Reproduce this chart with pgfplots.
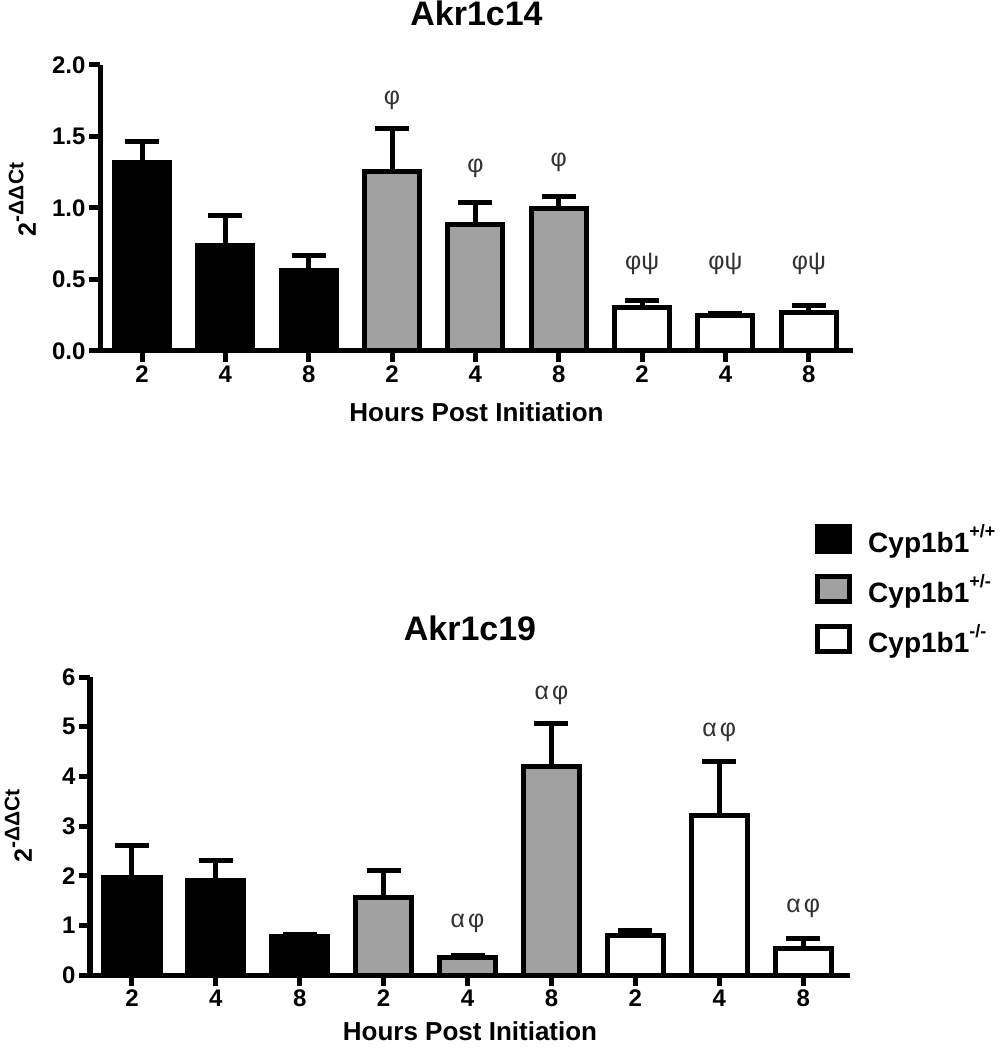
\documentclass[border=0pt]{standalone}
\usepackage{fontspec}
\setmainfont{Liberation Sans}
\usepackage{pgfplots}
\pgfplotsset{compat=1.18}

\definecolor{bargray}{RGB}{160,160,160}
\definecolor{annotgray}{RGB}{50,50,50}
\newcommand{\fs}[1]{\fontsize{#1}{#1}\selectfont}

\tikzset{sig/.style={font=\fs{25}, text=annotgray, inner sep=0pt}}

\pgfplotsset{
  gp/.style={
    scale only axis,
    ybar, bar width=0.66,
    axis x line*=bottom, axis y line*=left,
    axis line style={line width=5pt, -},
    tick style={line width=5pt, black},
    major tick length=11pt,
    tick align=outside,
    xtick={0,...,8},
    xticklabels={2,4,8,2,4,8,2,4,8},
    ticklabel style={font=\fs{24}\bfseries},
    /pgf/number format/assume math mode=true,
    xlabel={Hours Post Initiation},
    xlabel style={font=\fs{26}\bfseries, at={(axis description cs:0.5,0)}, anchor=base, yshift=-71pt},
    title style={font=\fs{34}\bfseries, inner sep=0pt, at={(axis description cs:0.5,1)}, anchor=base, yshift=33pt},
    ylabel={2\raisebox{0.5em}{\fs{21}-ΔΔCt}},
    ylabel style={font=\fs{25}\bfseries, anchor=south, inner sep=0pt},
    clip=false,
  },
  grp/.style={bar shift=0pt, line width=5pt, draw=black,
    error bars/y dir=plus, error bars/y explicit,
    error bars/error bar style={line width=5pt, black},
    error bars/error mark options={rotate=90, line width=5pt, mark size=17pt, black}},
}

\begin{document}
\begin{tikzpicture}
\path[use as bounding box] (0,0) rectangle (1002pt,1050pt);

% Akr1c14
\begin{axis}[gp,
  at={(100pt,699pt)}, anchor=south west,
  width=753pt, height=286pt,
  xmin=-0.504, xmax=8.53, ymin=0, ymax=2,
  ytick={0,0.5,...,2},
  yticklabel style={/pgf/number format/.cd, fixed, fixed zerofill, precision=1},
  ylabel style={at={(axis description cs:0,0.53)}, yshift=64pt},
  title={Akr1c14},
]
\addplot[grp, fill=black] coordinates {(0,1.32) +- (0,0.143) (1,0.74) +- (0,0.208) (2,0.565) +- (0,0.103)};
\addplot[grp, fill=bargray] coordinates {(3,1.255) +- (0,0.303) (4,0.885) +- (0,0.154) (5,0.997) +- (0,0.086)};
\addplot[grp, fill=white] coordinates {(6,0.305) +- (0,0.048) (7,0.25) +- (0,0.01) (8,0.27) +- (0,0.049)};
\node[sig] at (axis cs:3,1.755) {φ};
\node[sig] at (axis cs:4,1.28) {φ};
\node[sig] at (axis cs:5,1.32) {φ};
\node[sig] at (axis cs:6,0.61) {φψ};
\node[sig] at (axis cs:7,0.61) {φψ};
\node[sig] at (axis cs:8,0.61) {φψ};
\end{axis}

% Akr1c19
\begin{axis}[gp,
  at={(90pt,75pt)}, anchor=south west,
  width=760pt, height=298pt,
  bar width=0.67,
  xmin=-0.5, xmax=8.558, ymin=0, ymax=6,
  ytick={0,1,...,6},
  ylabel style={at={(axis description cs:0,0.5)}, yshift=58pt},
  xlabel style={yshift=6pt},
  title style={yshift=-2pt},
  title={Akr1c19},
  legend style={at={(axis description cs:0.954,1.513)}, anchor=north west,
    draw=none, fill=none, inner sep=0pt, row sep=20pt,
    font=\fs{28}\bfseries, nodes={inner sep=0pt},
    /tikz/every odd column/.append style={column sep=16pt}},
  legend cell align=left,
  legend image code/.code={\draw[#1, line width=5pt] (2.5pt,-12.5pt) rectangle (34.5pt,12.5pt);},
]
\addplot[grp, fill=black] coordinates {(0,1.97) +- (0,0.64) (1,1.90) +- (0,0.40) (2,0.78) +- (0,0.04)};
\addplot[grp, fill=bargray] coordinates {(3,1.56) +- (0,0.54) (4,0.35) +- (0,0.04) (5,4.20) +- (0,0.86)};
\addplot[grp, fill=white] coordinates {(6,0.79) +- (0,0.11) (7,3.21) +- (0,1.09) (8,0.53) +- (0,0.21)};
\legend{Cyp1b1\raisebox{0.55em}{\fs{18}+/+}, Cyp1b1\raisebox{0.55em}{\fs{18}+/-}, Cyp1b1\raisebox{0.55em}{\fs{18}-/-}}
\node[sig] at (axis cs:4,1.05) {α\kern3ptφ};
\node[sig] at (axis cs:5,5.63) {α\kern3ptφ};
\node[sig] at (axis cs:7,4.89) {α\kern3ptφ};
\node[sig] at (axis cs:8,1.35) {α\kern3ptφ};
\end{axis}
\end{tikzpicture}
\end{document}
